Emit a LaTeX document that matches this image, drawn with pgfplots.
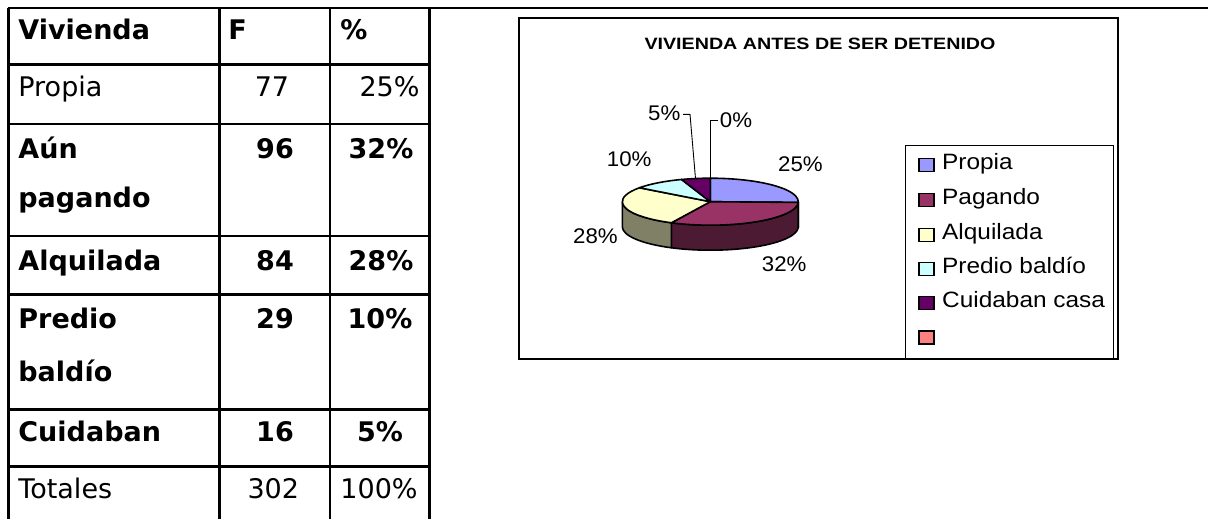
\documentclass[border=0pt]{standalone}
\usepackage{pgfplots}
\pgfplotsset{compat=1.18}
\usepackage{pgfplotstable}
\usepackage{fontspec}
\setmainfont{DejaVu Sans}
\newfontfamily\arialf{Liberation Sans}

\definecolor{cProp}{HTML}{9999FF}
\definecolor{cPag}{HTML}{993366}
\definecolor{cAlq}{HTML}{FFFFCC}
\definecolor{cPre}{HTML}{CCFFFF}
\definecolor{cCui}{HTML}{660066}
\definecolor{cRed}{HTML}{FF8080}
\definecolor{sProp}{HTML}{4D4D80}
\definecolor{sPag}{HTML}{4D1A33}
\definecolor{sAlq}{HTML}{808066}

\pgfplotstableread{
cat F pct
Propia 77 25
Pagando 96 32
Alquilada 84 28
Predio 29 10
Cuidaban 16 5
}\piedata

\pgfplotstablegetelem{0}{F}\of\piedata \let\FA\pgfplotsretval
\pgfplotstablegetelem{1}{F}\of\piedata \let\FB\pgfplotsretval
\pgfplotstablegetelem{2}{F}\of\piedata \let\FC\pgfplotsretval
\pgfplotstablegetelem{3}{F}\of\piedata \let\FD\pgfplotsretval
\pgfplotstablegetelem{4}{F}\of\piedata \let\FE\pgfplotsretval
\pgfmathsetmacro\tot{\FA+\FB+\FC+\FD+\FE}
\pgfmathsetmacro\aA{90}
\pgfmathsetmacro\aB{\aA-360*(\FA/\tot)}
\pgfmathsetmacro\aC{\aB-360*(\FB/\tot)}
\pgfmathsetmacro\aD{\aC-360*(\FC/\tot)}
\pgfmathsetmacro\aE{\aD-360*(\FD/\tot)}
\pgfmathsetmacro\aF{\aE-360*(\FE/\tot)}

\newcommand\tf{\fontsize{13.5pt}{15pt}\selectfont}
\newcommand\lf{\arialf\fontsize{10.6pt}{12pt}\selectfont}
\newcommand\gf{\arialf\fontsize{11.1pt}{13pt}\selectfont}

\begin{document}
\begin{tikzpicture}
\begin{axis}[name=ax, hide axis, scale only axis, width=604pt, height=259.5pt,
  xmin=0, xmax=1208, ymin=0, ymax=519, y dir=reverse, clip=false]

% ---- table ----
\draw[line width=1.3pt] (axis cs:7.5,8) -- (axis cs:1208,8);
\draw[line width=1.4pt] (axis cs:8.7,8) -- (axis cs:8.7,519);
\draw[line width=1.4pt] (axis cs:219.7,8) -- (axis cs:219.7,519);
\draw[line width=1.4pt] (axis cs:330,8) -- (axis cs:330,519);
\draw[line width=1.4pt] (axis cs:429.5,8) -- (axis cs:429.5,519);
\draw[line width=1.4pt] (axis cs:8.7,64.7) -- (axis cs:429.5,64.7);
\draw[line width=1.4pt] (axis cs:8.7,124) -- (axis cs:429.5,124);
\draw[line width=1.4pt] (axis cs:8.7,236) -- (axis cs:429.5,236);
\draw[line width=1.4pt] (axis cs:8.7,294.7) -- (axis cs:429.5,294.7);
\draw[line width=1.4pt] (axis cs:8.7,409.7) -- (axis cs:429.5,409.7);
\draw[line width=1.4pt] (axis cs:8.7,466.3) -- (axis cs:429.5,466.3);

\node[anchor=base west, inner sep=0, font=\tf\bfseries] at (axis cs:18,39.3) {Vivienda};
\node[anchor=base west, inner sep=0, font=\tf\bfseries] at (axis cs:228,39.3) {F};
\node[anchor=base west, inner sep=0, font=\tf\bfseries] at (axis cs:340,39.3) {\%};

\node[anchor=base west, inner sep=0, font=\tf] at (axis cs:18,96.7) {Propia};
\node[anchor=base, inner sep=0, font=\tf] at (axis cs:272,96.7) {77};
\node[anchor=base, inner sep=0, font=\tf] at (axis cs:389.5,96.7) {25\%};

\node[anchor=base west, inner sep=0, font=\tf\bfseries] at (axis cs:18,158.3) {Aún};
\node[anchor=base west, inner sep=0, font=\tf\bfseries] at (axis cs:18,207) {pagando};
\node[anchor=base, inner sep=0, font=\tf\bfseries] at (axis cs:275,158.3) {96};
\node[anchor=base, inner sep=0, font=\tf\bfseries] at (axis cs:381,158.3) {32\%};

\node[anchor=base west, inner sep=0, font=\tf\bfseries] at (axis cs:18,270) {Alquilada};
\node[anchor=base, inner sep=0, font=\tf\bfseries] at (axis cs:275,270) {84};
\node[anchor=base, inner sep=0, font=\tf\bfseries] at (axis cs:381,270) {28\%};

\node[anchor=base west, inner sep=0, font=\tf\bfseries] at (axis cs:18,328.3) {Predio};
\node[anchor=base west, inner sep=0, font=\tf\bfseries] at (axis cs:18,381) {baldío};
\node[anchor=base, inner sep=0, font=\tf\bfseries] at (axis cs:275,328.3) {29};
\node[anchor=base, inner sep=0, font=\tf\bfseries] at (axis cs:380,328.3) {10\%};

\node[anchor=base west, inner sep=0, font=\tf\bfseries] at (axis cs:18,441.7) {Cuidaban};
\node[anchor=base, inner sep=0, font=\tf\bfseries] at (axis cs:275,441.7) {16};
\node[anchor=base, inner sep=0, font=\tf\bfseries] at (axis cs:380,441.7) {5\%};

\node[anchor=base west, inner sep=0, font=\tf] at (axis cs:18,498.3) {Totales};
\node[anchor=base, inner sep=0, font=\tf] at (axis cs:273.3,498.3) {302};
\node[anchor=base, inner sep=0, font=\tf] at (axis cs:379,498.3) {100\%};

% ---- chart frame ----
\draw[line width=0.6pt] (axis cs:519,18) rectangle (axis cs:1118,359);
\node[anchor=base, inner sep=0, xscale=1.2, font=\arialf\bfseries\fontsize{8.2pt}{10pt}\selectfont] at (axis cs:820,50) {VIVIENDA ANTES DE SER DETENIDO};

% ---- pie ----
\coordinate (C) at (axis cs:710.3,201.7);
\filldraw[fill=sProp, line width=0.8pt, line join=round] (C) ++(0:44pt and 11.75pt) arc[start angle=0, end angle=\aB, x radius=44pt, y radius=11.75pt] -- ++(0pt,-12.5pt) arc[start angle=\aB, end angle=0, x radius=44pt, y radius=11.75pt] -- cycle;
\filldraw[fill=sPag, line width=0.8pt, line join=round] (C) ++(\aB:44pt and 11.75pt) arc[start angle=\aB, end angle=\aC, x radius=44pt, y radius=11.75pt] -- ++(0pt,-12.5pt) arc[start angle=\aC, end angle=\aB, x radius=44pt, y radius=11.75pt] -- cycle;
\filldraw[fill=sAlq, line width=0.8pt, line join=round] (C) ++(\aC:44pt and 11.75pt) arc[start angle=\aC, end angle=-180, x radius=44pt, y radius=11.75pt] -- ++(0pt,-12.5pt) arc[start angle=-180, end angle=\aC, x radius=44pt, y radius=11.75pt] -- cycle;

\filldraw[fill=cProp, line width=0.8pt, line join=round] (C) -- ++(\aA:44pt and 11.75pt) arc[start angle=\aA, end angle=\aB, x radius=44pt, y radius=11.75pt] -- cycle;
\filldraw[fill=cPag, line width=0.8pt, line join=round] (C) -- ++(\aB:44pt and 11.75pt) arc[start angle=\aB, end angle=\aC, x radius=44pt, y radius=11.75pt] -- cycle;
\filldraw[fill=cAlq, line width=0.8pt, line join=round] (C) -- ++(\aC:44pt and 11.75pt) arc[start angle=\aC, end angle=\aD, x radius=44pt, y radius=11.75pt] -- cycle;
\filldraw[fill=cPre, line width=0.8pt, line join=round] (C) -- ++(\aD:44pt and 11.75pt) arc[start angle=\aD, end angle=\aE, x radius=44pt, y radius=11.75pt] -- cycle;
\filldraw[fill=cCui, line width=0.8pt, line join=round] (C) -- ++(\aE:44pt and 11.75pt) arc[start angle=\aE, end angle=\aF, x radius=44pt, y radius=11.75pt] -- cycle;

% leaders
\draw[line width=0.45pt] (axis cs:683,114.3) -- (axis cs:690,114.3) -- (axis cs:695.5,178.6);
\draw[line width=0.45pt] (axis cs:718,120) -- (axis cs:710,120) -- (axis cs:710,178.3);

% percent labels
\node[anchor=base, inner sep=0, xscale=1.05, font=\lf] at (axis cs:800.5,171.7) {25\%};
\node[anchor=base, inner sep=0, xscale=1.05, font=\lf] at (axis cs:784.2,271.7) {32\%};
\node[anchor=base, inner sep=0, xscale=1.05, font=\lf] at (axis cs:595.5,243.3) {28\%};
\node[anchor=base, inner sep=0, xscale=1.05, font=\lf] at (axis cs:629.2,166.7) {10\%};
\node[anchor=base, inner sep=0, xscale=1.05, font=\lf] at (axis cs:664.2,120) {5\%};
\node[anchor=base, inner sep=0, xscale=1.05, font=\lf] at (axis cs:736,127.5) {0\%};

% ---- legend ----
\draw[line width=0.5pt] (axis cs:905,145) rectangle (axis cs:1113,358.5);
\filldraw[fill=cProp, line width=0.6pt] (axis cs:919,158.8) rectangle (axis cs:934,171.8);
\filldraw[fill=cPag, line width=0.6pt] (axis cs:919,193.5) rectangle (axis cs:934,206.5);
\filldraw[fill=cAlq, line width=0.6pt] (axis cs:919,228.8) rectangle (axis cs:934,241.8);
\filldraw[fill=cPre, line width=0.6pt] (axis cs:919,262.8) rectangle (axis cs:934,275.8);
\filldraw[fill=cCui, line width=0.6pt] (axis cs:919,296.8) rectangle (axis cs:934,309.8);
\filldraw[fill=cRed, line width=0.6pt] (axis cs:919,331) rectangle (axis cs:934,344);
\node[anchor=base west, inner sep=0, xscale=1.1, font=\gf] at (axis cs:941.7,169.3) {Propia};
\node[anchor=base west, inner sep=0, xscale=1.1, font=\gf] at (axis cs:941.7,204) {Pagando};
\node[anchor=base west, inner sep=0, xscale=1.1, font=\gf] at (axis cs:941.7,239.3) {Alquilada};
\node[anchor=base west, inner sep=0, xscale=1.1, font=\gf] at (axis cs:941.7,273.3) {Predio baldío};
\node[anchor=base west, inner sep=0, xscale=1.1, font=\gf] at (axis cs:941.7,307.3) {Cuidaban casa};
\end{axis}
\pgfresetboundingbox
\path[use as bounding box] (ax.south west) rectangle (ax.north east);
\end{tikzpicture}
\end{document}
